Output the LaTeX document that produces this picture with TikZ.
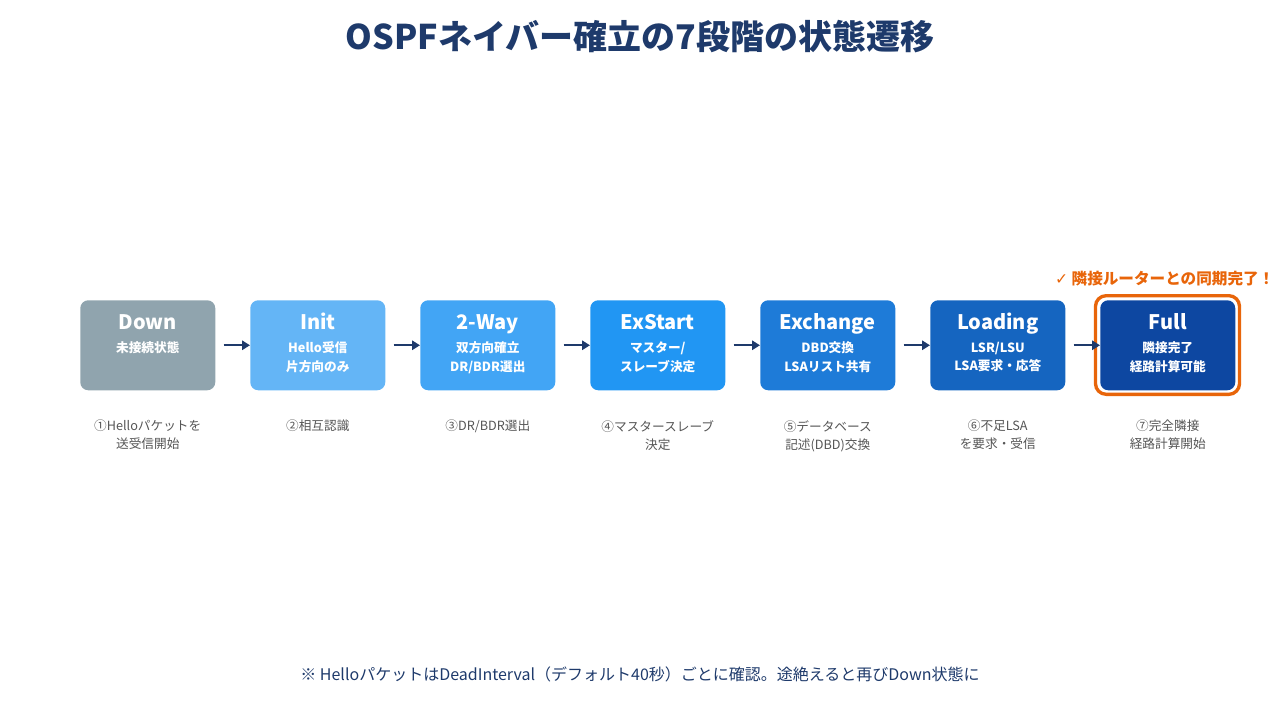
\documentclass[tikz,border=0pt]{standalone}
\usepackage{fontspec}
\setmainfont{Noto Sans CJK JP}
\newfontfamily\djv{DejaVu Sans}
\usetikzlibrary{arrows.meta,calc}
\definecolor{ttl}{HTML}{1E3A6B}
\definecolor{arr}{HTML}{1E3A6B}
\definecolor{capc}{HTML}{555555}
\definecolor{org}{HTML}{E8650A}
\definecolor{c1}{HTML}{90A4AE}
\definecolor{c2}{HTML}{64B5F6}
\definecolor{c3}{HTML}{42A5F5}
\definecolor{c4}{HTML}{2196F3}
\definecolor{c5}{HTML}{1E7BD8}
\definecolor{c6}{HTML}{1565C0}
\definecolor{c7}{HTML}{0D47A1}
\begin{document}
\begin{tikzpicture}[x=0.75pt,y=-0.75pt,
 st/.style={rounded corners=6pt,minimum width=101.25pt,minimum height=67.5pt,inner sep=0pt,anchor=north west,draw=none},
 captx/.style={text=capc,font=\fontsize{9.5}{13.5}\selectfont,align=center,anchor=north},
 ar/.style={draw=arr,line width=1.5pt,-{Triangle[length=6pt,width=7pt]}}]
\useasboundingbox (0,0) rectangle (1280,720);
\node[font=\bfseries\fontsize{25.5}{30}\selectfont,text=ttl] (title) at (640,37) {OSPFネイバー確立の7段階の状態遷移};
\def\bx#1#2#3#4#5#6{%
 \node[st,fill=#3] (#1) at (#2,300) {};
 \node[text=white,font=\bfseries\fontsize{15}{18}\selectfont,anchor=base] (#1t) at ($(#1.north)+(0,29)$) {#4};
 \node[text=white,font=\bfseries\fontsize{9.5}{14}\selectfont,align=center,anchor=north] (#1s) at ($(#1.north)+(0,37)$) {#5};
 \node[captx] (#1c) at ($(#1.south)+(0,25)$) {#6};}
\node[draw=org,line width=2.5pt,rounded corners=8pt,minimum width=108pt,minimum height=74pt,anchor=center] (fr) at (1167.5,345) {};
\bx{a}{80}{c1}{Down}{未接続状態}{①Helloパケットを\\送受信開始}
\bx{b}{250}{c2}{Init}{Hello受信\\片方向のみ}{②相互認識}
\bx{c}{420}{c3}{2-Way}{双方向確立\\DR/BDR選出}{③DR/BDR選出}
\bx{d}{590}{c4}{ExStart}{マスター/\\スレーブ決定}{④マスタースレーブ\\決定}
\bx{e}{760}{c5}{Exchange}{DBD交換\\LSAリスト共有}{⑤データベース\\記述(DBD)交換}
\bx{f}{930}{c6}{Loading}{LSR/LSU\\LSA要求・応答}{⑥不足LSA\\を要求・受信}
\bx{g}{1100}{c7}{Full}{隣接完了\\経路計算可能}{⑦完全隣接\\経路計算開始}
\foreach \p/\q in {a/b,b/c,c/d,d/e,e/f,f/g}{\draw[ar] ($(\p.east)+(8,0)$) -- (\q.west);}
\node[text=org,font=\bfseries\fontsize{11.7}{14}\selectfont,anchor=east] (chk) at (1279,279) {{\djv ✓} 隣接ルーターとの同期完了！};
\node[text=ttl,font=\fontsize{12}{14}\selectfont] (note) at (640,674) {※ HelloパケットはDeadInterval（デフォルト40秒）ごとに確認。途絶えると再びDown状態に};
\end{tikzpicture}
\end{document}
